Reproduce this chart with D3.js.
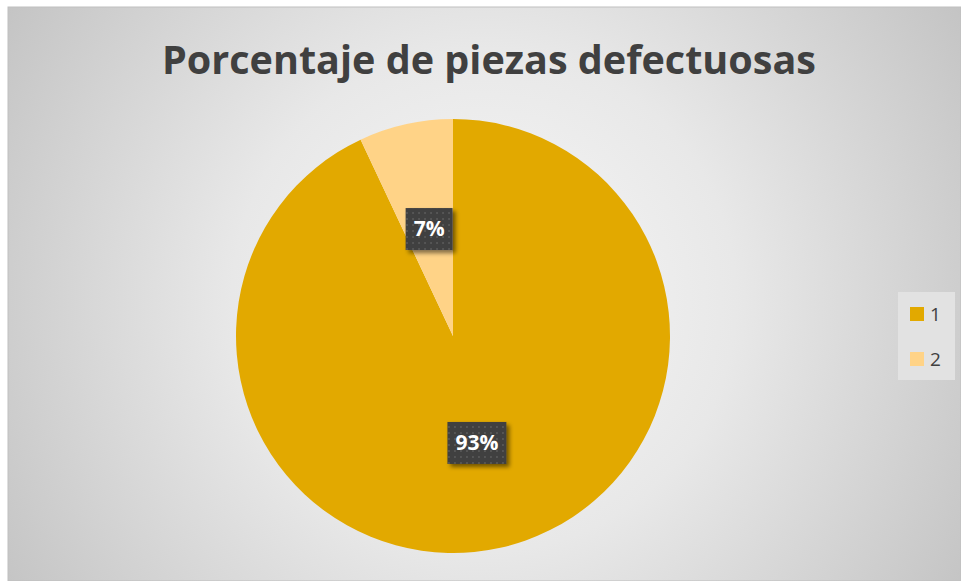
<!DOCTYPE html>
<html><head><meta charset="utf-8">
<script src="https://cdn.jsdelivr.net/npm/d3@7"></script>
<style>body{margin:0;background:#fff;}svg{display:block;}</style>
</head><body>
<script>
const categories = ["1", "2"];
const values = [93, 7];
const labels = ["93%", "7%"];
const colors = ["#E2A900", "#FFD387"];
const title = "Porcentaje de piezas defectuosas";

const W = 961, H = 581;
const svg = d3.select("body").append("svg").attr("width", W).attr("height", H);
const defs = svg.append("defs");
const rg = defs.append("radialGradient").attr("id","bg").attr("gradientUnits","userSpaceOnUse")
  .attr("cx",484).attr("cy",300).attr("r",560);
rg.append("stop").attr("offset","0").attr("stop-color","#f8f8f8");
rg.append("stop").attr("offset","0.45").attr("stop-color","#e8e8e8");
rg.append("stop").attr("offset","1").attr("stop-color","#c4c4c4");
const pat = defs.append("pattern").attr("id","dots").attr("patternUnits","userSpaceOnUse")
  .attr("width",6).attr("height",6);
pat.append("rect").attr("width",6).attr("height",6).attr("fill","#3f3f3f");
pat.append("rect").attr("x",1).attr("y",1).attr("width",2).attr("height",2).attr("fill","#555");
const flt = defs.append("filter").attr("id","sh").attr("x","-30%").attr("y","-30%").attr("width","170%").attr("height","170%");
flt.append("feGaussianBlur").attr("in","SourceAlpha").attr("stdDeviation",2).attr("result","b");
flt.append("feOffset").attr("dx",3).attr("dy",3).attr("result","o");
flt.append("feComponentTransfer").append("feFuncA").attr("type","linear").attr("slope",0.5);
const fm = flt.append("feMerge"); fm.append("feMergeNode"); fm.append("feMergeNode").attr("in","SourceGraphic");

svg.append("rect").attr("x",8).attr("y",7).attr("width",W-8).attr("height",H-7)
  .attr("fill","url(#bg)").attr("stroke","#bfbfbf").attr("stroke-width",1);

const t = svg.append("text").attr("x",489).attr("y",74).attr("text-anchor","middle")
  .attr("font-family","'Open Sans', sans-serif").attr("font-weight","bold").attr("font-size",40)
  .attr("fill","#404040").text(title);
const tw = t.node().getComputedTextLength();
if (Math.abs(tw-654) > 4) t.attr("textLength",654).attr("lengthAdjust","spacingAndGlyphs");

const cx = 453, cy = 336, R = 217;
const pie = d3.pie().sort(null).value(d => d);
const arcs = pie(values);
const arc = d3.arc().innerRadius(0).outerRadius(R);
const lblArc = d3.arc().innerRadius(R*0.505).outerRadius(R*0.505);
const g = svg.append("g").attr("transform",`translate(${cx},${cy})`);
g.selectAll("path").data(arcs).join("path").attr("d",arc).attr("fill",(d,i)=>colors[i]);

const lg = g.selectAll("g.lbl").data(arcs).join("g").attr("class","lbl")
  .attr("transform",d=>`translate(${lblArc.centroid(d)})`);
lg.each(function(d,i){
  const el = d3.select(this);
  const txt = el.append("text").attr("text-anchor","middle").attr("dy","0.35em")
    .attr("font-family","'Open Sans', sans-serif").attr("font-weight","bold").attr("font-size",21)
    .attr("fill","#fff").text(labels[i]);
  const w = txt.node().getComputedTextLength();
  el.insert("rect","text").attr("x",-w/2-8).attr("y",-21).attr("width",w+16).attr("height",42)
    .attr("fill","url(#dots)").attr("filter","url(#sh)");
});

// legend
svg.append("rect").attr("x",898).attr("y",292).attr("width",57).attr("height",88).attr("fill","#e2e2e2");
const leg = svg.append("g");
const ly = d3.scalePoint().domain(categories).range([314,359]);
categories.forEach((c,i)=>{
  leg.append("rect").attr("x",910).attr("y",ly(c)-7).attr("width",14).attr("height",14).attr("fill",colors[i]);
  leg.append("text").attr("x",930).attr("y",ly(c)).attr("dy","0.35em")
    .attr("font-family","'Open Sans', sans-serif").attr("font-size",19).attr("fill","#404040").text(c);
});
</script>
</body></html>
